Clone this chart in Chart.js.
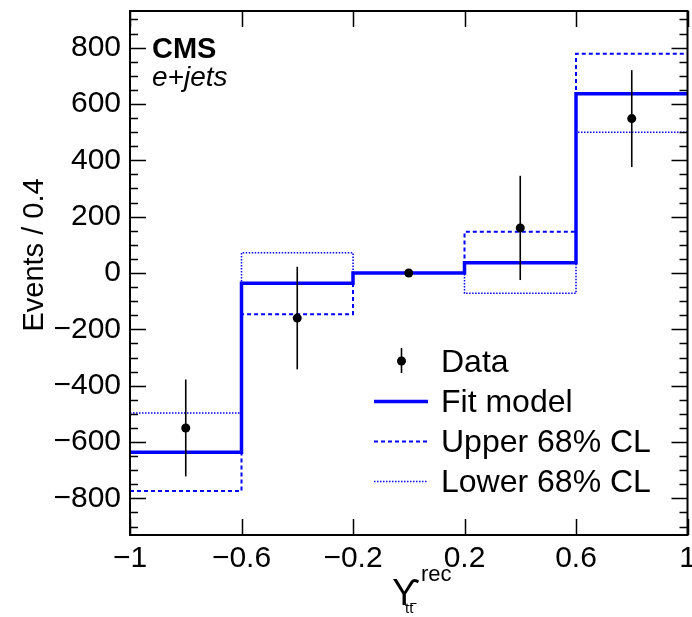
<!DOCTYPE html>
<html>
<head>
<meta charset="utf-8">
<script src="https://cdn.jsdelivr.net/npm/chart.js@4.4.1/dist/chart.umd.min.js"></script>
<style>
  html, body { margin: 0; padding: 0; background: #fff; }
  #wrap { width: 692px; height: 617px; position: relative; }
</style>
</head>
<body>
<div id="wrap"><canvas id="chart"></canvas></div>
<script>
// ── Datos ─────────────────────────────────────────────────────────────────────
const binEdges    = [-1, -0.6, -0.2, 0.2, 0.6, 1];
const binCenters  = [-0.8, -0.4, 0, 0.4, 0.8];
const dataValues  = [-550, -160, 0, 160, 548];
const dataErrors  = [172, 182, 3, 185, 172];
const fitValues   = [-636, -36, 0, 36, 636];
const upperValues = [-774, -146, 0, 146, 778];
const lowerValues = [-497, 72, 0, -72, 500];
const xTicks      = [-1, -0.6, -0.2, 0.2, 0.6, 1];
const yTicks      = [-800, -600, -400, -200, 0, 200, 400, 600, 800];
const yMinorStep  = 50;
const Y_MIN = -930, Y_MAX = 930;

const FONT = "'Liberation Sans', Arial, Helvetica, sans-serif";
const BLUE = '#0000ff';

// bins → puntos para línea escalonada (último valor repetido en el borde derecho)
const stepPoints = vals => binEdges.map((x, i) => ({ x, y: vals[Math.min(i, vals.length - 1)] }));
const fmtMinus = v => String(Number(v.toFixed(1))).replace('-', '\u2212');

// ── Plugin: marco, ticks, barras de error, textos, leyenda ────────────────────
const decorPlugin = {
  id: 'decor',
  afterDatasetsDraw(chart) {
    const { ctx, scales: { x, y } } = chart;
    // barras de error
    ctx.save();
    ctx.strokeStyle = '#000';
    ctx.lineWidth = 1.6;
    binCenters.forEach((c, i) => {
      const px = x.getPixelForValue(c);
      ctx.beginPath();
      ctx.moveTo(px, y.getPixelForValue(dataValues[i] + dataErrors[i]));
      ctx.lineTo(px, y.getPixelForValue(dataValues[i] - dataErrors[i]));
      ctx.stroke();
    });
    ctx.restore();
  },
  afterDraw(chart) {
    const { ctx, chartArea: a, scales: { x, y } } = chart;
    ctx.save();
    ctx.strokeStyle = '#000';

    // ticks eje y (mayores y menores, izquierda y derecha)
    ctx.lineWidth = 1.5;
    for (let v = Math.ceil(Y_MIN / yMinorStep) * yMinorStep; v <= Y_MAX; v += yMinorStep) {
      const py = Math.round(y.getPixelForValue(v)) + 0.5;
      const len = yTicks.includes(v) ? 16 : 8;
      ctx.beginPath();
      ctx.moveTo(a.left, py);  ctx.lineTo(a.left + len, py);
      ctx.moveTo(a.right, py); ctx.lineTo(a.right - len, py);
      ctx.stroke();
    }
    // ticks eje x (arriba y abajo)
    xTicks.forEach(v => {
      const px = Math.round(x.getPixelForValue(v)) + 0.5;
      ctx.beginPath();
      ctx.moveTo(px, a.bottom); ctx.lineTo(px, a.bottom - 16);
      ctx.moveTo(px, a.top);    ctx.lineTo(px, a.top + 16);
      ctx.stroke();
    });
    // marco
    ctx.lineWidth = 2;
    ctx.strokeRect(a.left, a.top, a.right - a.left, a.bottom - a.top);

    // CMS / e+jets
    ctx.fillStyle = '#000';
    ctx.textAlign = 'left';
    ctx.textBaseline = 'alphabetic';
    ctx.font = 'bold 29px ' + FONT;
    ctx.fillText('CMS', 152, 58);
    ctx.font = 'italic 28px ' + FONT;
    ctx.fillText('e+jets', 152, 86);

    // título eje y
    ctx.save();
    ctx.translate(43, 255);
    ctx.rotate(-Math.PI / 2);
    ctx.textAlign = 'center';
    ctx.font = '29px ' + FONT;
    ctx.fillText('Events / 0.4', 0, 0);
    ctx.restore();

    // título eje x: Υ^rec_tt̄
    ctx.textAlign = 'left';
    ctx.font = '36px ' + FONT;
    ctx.fillText('\u03D2', 392, 605);
    ctx.font = '22px ' + FONT;
    ctx.fillText('rec', 421, 581);
    ctx.font = '15px ' + FONT;
    ctx.fillText('tt', 405, 613);
    ctx.lineWidth = 1;
    ctx.beginPath();
    ctx.moveTo(410.5, 603.5); ctx.lineTo(416.5, 603.5);
    ctx.stroke();

    // leyenda
    const legendRows = [360, 400, 440, 480];
    const ds = chart.data.datasets;
    ctx.font = '32px ' + FONT;
    legendRows.forEach((ry, i) => {
      ctx.fillStyle = '#000';
      ctx.fillText(ds[i].label, 441, ry + 11.5);
    });
    // marcador Data
    ctx.beginPath();
    ctx.lineWidth = 1.6;
    ctx.moveTo(401.5, legendRows[0] - 12); ctx.lineTo(401.5, legendRows[0] + 13);
    ctx.stroke();
    ctx.beginPath();
    ctx.arc(401.5, legendRows[0] + 1, 4.5, 0, Math.PI * 2);
    ctx.fill();
    // líneas
    [1, 2, 3].forEach(i => {
      ctx.beginPath();
      ctx.strokeStyle = ds[i].borderColor;
      ctx.lineWidth = ds[i].borderWidth;
      ctx.setLineDash(ds[i].borderDash || []);
      ctx.moveTo(374, legendRows[i] + 1.5); ctx.lineTo(428, legendRows[i] + 1.5);
      ctx.stroke();
    });
    ctx.restore();
  }
};

// ── Gráfico ───────────────────────────────────────────────────────────────────
new Chart(document.getElementById('chart'), {
  type: 'line',
  plugins: [decorPlugin],
  data: {
    datasets: [
      {
        label: 'Data', order: 0, showLine: false,
        data: binCenters.map((c, i) => ({ x: c, y: dataValues[i] })),
        pointRadius: 4.5, pointBackgroundColor: '#000', pointBorderWidth: 0,
        borderColor: '#000',
      },
      {
        label: 'Fit model', order: 1, data: stepPoints(fitValues), stepped: 'before',
        borderColor: BLUE, borderWidth: 3.5, pointRadius: 0, fill: false,
      },
      {
        label: 'Upper 68% CL', order: 2, data: stepPoints(upperValues), stepped: 'before',
        borderColor: BLUE, borderWidth: 2, borderDash: [4, 3], pointRadius: 0, fill: false,
      },
      {
        label: 'Lower 68% CL', order: 3, data: stepPoints(lowerValues), stepped: 'before',
        borderColor: BLUE, borderWidth: 1.5, borderDash: [1.5, 1.5], pointRadius: 0, fill: false,
      },
    ],
  },
  options: {
    responsive: true, maintainAspectRatio: false, animation: false,
    layout: { padding: { top: 11, right: 1, left: 0, bottom: 0 } },
    plugins: { legend: { display: false }, tooltip: { enabled: false } },
    scales: {
      x: {
        type: 'linear', min: -1, max: 1,
        grid: { display: false, drawTicks: false }, border: { display: false },
        ticks: { color: '#000', font: { family: FONT, size: 30 }, padding: 6, maxRotation: 0,
                 callback: v => fmtMinus(v) },
        afterBuildTicks: s => { s.ticks = xTicks.map(value => ({ value })); },
        afterFit: s => { s.height = 82; s.paddingLeft = 0; s.paddingRight = 0; },
      },
      y: {
        type: 'linear', min: Y_MIN, max: Y_MAX,
        grid: { display: false, drawTicks: false }, border: { display: false },
        ticks: { color: '#000', font: { family: FONT, size: 30 }, padding: 9,
                 callback: v => fmtMinus(v) },
        afterBuildTicks: s => { s.ticks = yTicks.map(value => ({ value })); },
        afterFit: s => { s.width = 130; s.paddingTop = 0; s.paddingBottom = 0; },
      },
    },
  },
});
</script>
</body>
</html>
